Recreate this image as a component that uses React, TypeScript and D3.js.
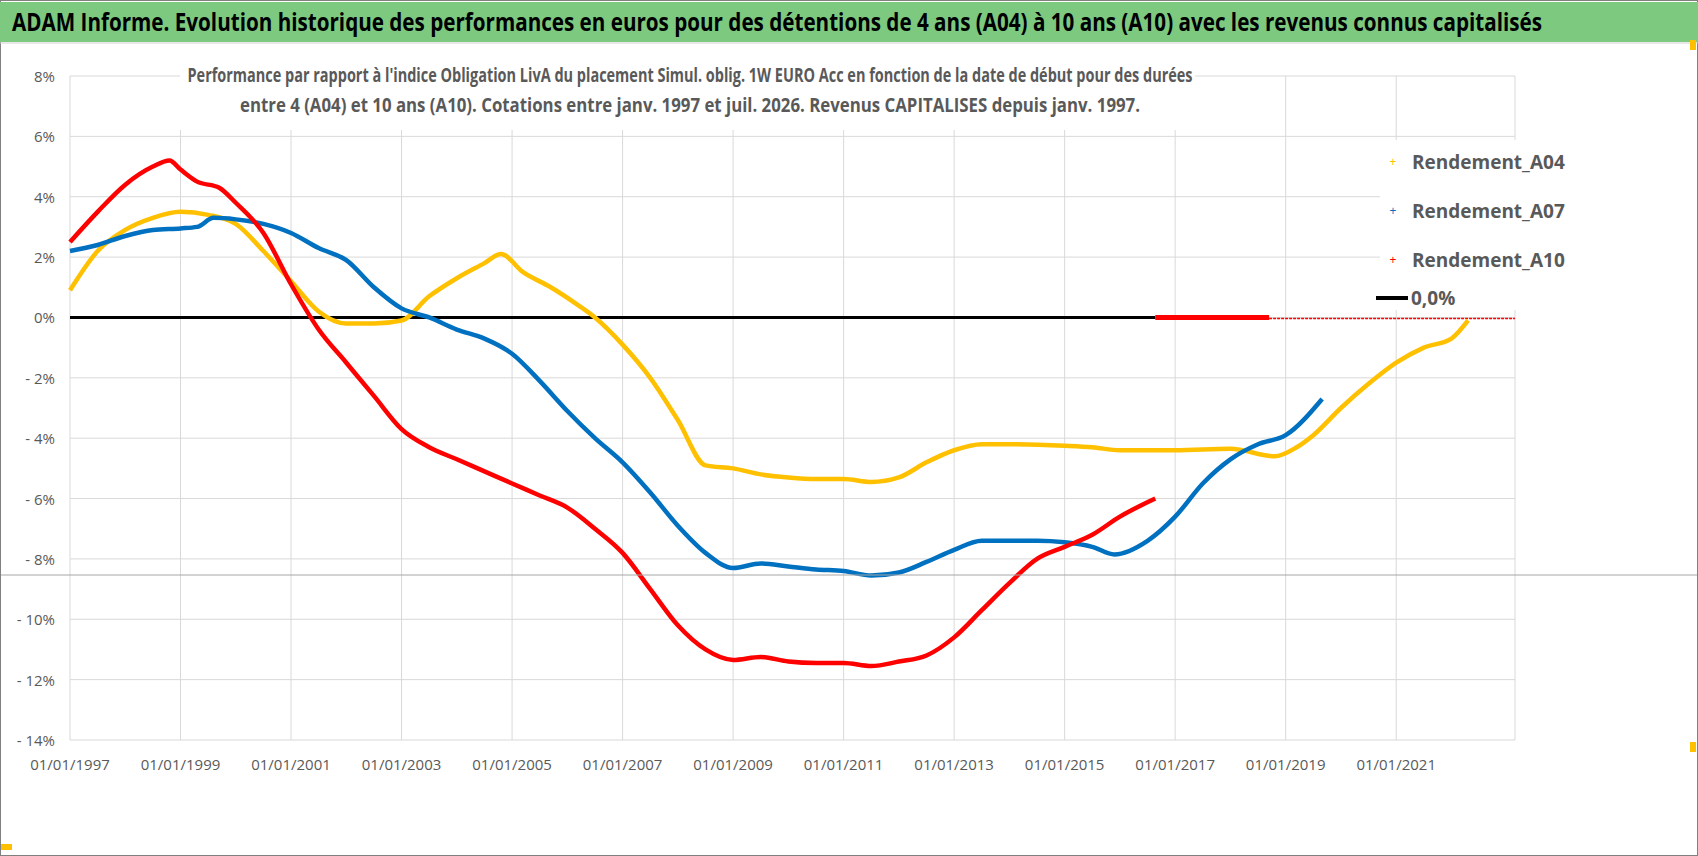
import { useEffect, useRef } from "react"
import * as d3 from "d3"

// year (decimal), value in %
const yearsA04 = [1997, 1997.5, 1998, 1998.5, 1999, 1999.5, 2000, 2000.5, 2001, 2001.5, 2002, 2002.5, 2003, 2003.5, 2004, 2004.5, 2004.8, 2005.2, 2005.7, 2006.2, 2006.5, 2007, 2007.5, 2008, 2008.5, 2009, 2009.5, 2010, 2010.5, 2011, 2011.5, 2012, 2012.5, 2013, 2013.5, 2014, 2015, 2015.5, 2016, 2017, 2018, 2018.8, 2019.2, 2019.5, 2020, 2020.5, 2021, 2021.5, 2022, 2022.3]
const valuesA04 = [0.9, 2.2, 2.9, 3.3, 3.5, 3.4, 3.1, 2.2, 1.2, 0.2, -0.2, -0.2, -0.1, 0.7, 1.3, 1.8, 2.1, 1.5, 1.0, 0.4, 0, -0.9, -2.0, -3.4, -4.9, -5.0, -5.2, -5.3, -5.35, -5.35, -5.45, -5.3, -4.8, -4.4, -4.2, -4.2, -4.25, -4.3, -4.4, -4.4, -4.35, -4.6, -4.3, -3.9, -3.0, -2.2, -1.5, -1.0, -0.7, -0.1]
const yearsA07 = [1997, 1997.5, 1998, 1998.5, 1999, 1999.3, 1999.6, 2000, 2000.5, 2001, 2001.5, 2002, 2002.5, 2003, 2003.5, 2004, 2004.5, 2005, 2005.5, 2006, 2006.5, 2007, 2007.5, 2008, 2008.5, 2009, 2009.5, 2010, 2010.5, 2011, 2011.5, 2012, 2012.5, 2013, 2013.5, 2014, 2014.5, 2015, 2015.5, 2015.9, 2016.5, 2017, 2017.5, 2018, 2018.5, 2019, 2019.66]
const valuesA07 = [2.2, 2.4, 2.7, 2.9, 2.95, 3.0, 3.3, 3.25, 3.1, 2.8, 2.3, 1.9, 1.0, 0.3, 0.0, -0.4, -0.7, -1.2, -2.1, -3.1, -4.0, -4.8, -5.8, -6.9, -7.8, -8.3, -8.15, -8.25, -8.35, -8.4, -8.55, -8.45, -8.1, -7.7, -7.4, -7.4, -7.4, -7.45, -7.6, -7.85, -7.4, -6.6, -5.5, -4.7, -4.2, -3.9, -2.7]
const yearsA10 = [1997, 1997.5, 1998, 1998.5, 1998.8, 1999, 1999.3, 1999.7, 2000, 2000.5, 2001, 2001.5, 2002, 2002.5, 2003, 2003.5, 2004, 2004.5, 2005, 2005.5, 2006, 2006.5, 2007, 2007.5, 2008, 2008.5, 2009, 2009.5, 2010, 2010.5, 2011, 2011.5, 2012, 2012.5, 2013, 2013.5, 2014, 2014.5, 2015, 2015.5, 2016, 2016.64]
const valuesA10 = [2.5, 3.5, 4.4, 5.0, 5.2, 4.9, 4.5, 4.3, 3.8, 2.8, 1.1, -0.4, -1.5, -2.6, -3.7, -4.3, -4.7, -5.1, -5.5, -5.9, -6.3, -7.0, -7.8, -9.0, -10.2, -11.0, -11.35, -11.25, -11.4, -11.45, -11.45, -11.55, -11.4, -11.2, -10.6, -9.7, -8.8, -8.0, -7.6, -7.2, -6.6, -6.0]
const tickYears = [1997, 1999, 2001, 2003, 2005, 2007, 2009, 2011, 2013, 2015, 2017, 2019, 2021]
const yTicks = [8, 6, 4, 2, 0, -2, -4, -6, -8, -10, -12, -14]
const legendNames = ["Rendement_A04", "Rendement_A07", "Rendement_A10"]
const colors = ["#ffc000", "#0070c0", "#ff0000"]

const FONT = "'Liberation Sans Narrow', 'Arial Narrow', 'Open Sans', sans-serif"

export default function App() {
  const ref = useRef<SVGSVGElement>(null)

  useEffect(() => {
    if (!ref.current) return
    const svg = d3.select(ref.current)
    svg.selectAll("*").remove()
    const W = 1698, H = 856

    svg.append("rect").attr("width", W).attr("height", H).attr("fill", "#fff")
    svg.append("rect").attr("x", 0.5).attr("y", 0.5).attr("width", W - 1).attr("height", H - 1)
      .attr("fill", "none").attr("stroke", "#808080")
    svg.append("rect").attr("x", 0).attr("y", 2).attr("width", W).attr("height", 40).attr("fill", "#7dc97f")
    svg.append("line").attr("x1", 0).attr("x2", W).attr("y1", 43).attr("y2", 43).attr("stroke", "#cfcfcf")
    svg.append("text").attr("x", 12).attr("y", 31).attr("font-family", FONT).attr("font-weight", "bold")
      .attr("font-size", 25).attr("textLength", 1530).attr("lengthAdjust", "spacingAndGlyphs")
      .text("ADAM Informe. Evolution historique des performances en euros pour des détentions de 4 ans (A04) à 10 ans (A10) avec les revenus connus capitalisés")

    const x = d3.scaleLinear().domain([1997, 2023.15]).range([70, 1515])
    const y = d3.scaleLinear().domain([-14, 8]).range([740, 76])

    const g = svg.append("g")
    g.selectAll(".vg").data(tickYears).enter().append("line")
      .attr("x1", d => x(d)).attr("x2", d => x(d)).attr("y1", 76).attr("y2", 740)
      .attr("stroke", "#d9d9d9")
    g.append("line").attr("x1", x(2023.15)).attr("x2", x(2023.15)).attr("y1", 76).attr("y2", 740).attr("stroke", "#d9d9d9")
    g.selectAll(".hg").data(yTicks).enter().append("line")
      .attr("x1", 70).attr("x2", 1515).attr("y1", d => y(d)).attr("y2", d => y(d))
      .attr("stroke", "#d9d9d9")

    g.selectAll(".yl").data(yTicks).enter().append("text")
      .attr("x", 55).attr("y", d => y(d) + 6).attr("text-anchor", "end")
      .attr("font-family", FONT).attr("font-size", 15).attr("fill", "#595959")
      .text(d => (d < 0 ? `- ${-d}%` : `${d}%`))
    g.selectAll(".xl").data(tickYears).enter().append("text")
      .attr("x", d => x(d)).attr("y", 770).attr("text-anchor", "middle")
      .attr("font-family", FONT).attr("font-size", 15).attr("fill", "#595959")
      .text(d => `01/01/${d}`)

    // subtitle with white background
    const sub = svg.append("g")
    sub.append("rect").attr("x", 180).attr("y", 60).attr("width", 1015).attr("height", 70).attr("fill", "#fff")
    ;[
      ["Performance par rapport à l'indice Obligation LivA  du placement Simul. oblig. 1W EURO Acc en fonction de la date de début pour des durées", 82, 1005],
      ["entre 4 (A04) et 10 ans (A10). Cotations entre janv. 1997 et juil. 2026. Revenus CAPITALISES depuis janv. 1997.", 112, 900],
    ].forEach(([t, yy, len]) => {
      sub.append("text").attr("x", 690).attr("y", yy as number).attr("text-anchor", "middle")
        .attr("font-family", FONT).attr("font-weight", "bold").attr("font-size", 19).attr("fill", "#595959")
        .attr("textLength", len as number).attr("lengthAdjust", "spacingAndGlyphs").text(t as string)
    })

    // zero line
    g.append("line").attr("x1", x(1997)).attr("x2", x(2016.64)).attr("y1", y(0)).attr("y2", y(0))
      .attr("stroke", "#000").attr("stroke-width", 3)
    g.append("line").attr("x1", x(2016.64)).attr("x2", x(2018.7)).attr("y1", y(0)).attr("y2", y(0))
      .attr("stroke", "#ff0000").attr("stroke-width", 5)
    g.append("line").attr("x1", x(2018.7)).attr("x2", x(2023.15)).attr("y1", y(0) + 1).attr("y2", y(0) + 1)
      .attr("stroke", "#ff0000").attr("stroke-width", 1.5).attr("stroke-dasharray", "3,1")

    const line = d3.line<[number, number]>().x(d => x(d[0])).y(d => y(d[1])).curve(d3.curveMonotoneX)
    const series: [number, number][][] = [
      d3.zip(yearsA04, valuesA04) as [number, number][],
      d3.zip(yearsA07, valuesA07) as [number, number][],
      d3.zip(yearsA10, valuesA10) as [number, number][],
    ]
    series.forEach((s, i) => {
      g.append("path").attr("d", line(s)).attr("fill", "none").attr("stroke", colors[i])
        .attr("stroke-width", 4.5).attr("stroke-linejoin", "round")
    })

    // light horizontal line across chart
    svg.append("line").attr("x1", 1).attr("x2", W - 1).attr("y1", 575).attr("y2", 575).attr("stroke", "#a6a6a6")

    // legend
    const lg = svg.append("g")
    lg.append("rect").attr("x", 1380).attr("y", 140).attr("width", 180).attr("height", 170).attr("fill", "#fff")
    legendNames.forEach((n, i) => {
      const yy = 160 + i * 49
      lg.append("text").attr("x", 1393).attr("y", yy + 6).attr("text-anchor", "middle").attr("font-size", 12)
        .attr("fill", colors[i]).attr("font-family", FONT).text("+")
      lg.append("text").attr("x", 1412).attr("y", yy + 9).attr("font-family", FONT).attr("font-weight", "bold")
        .attr("font-size", 19).attr("fill", "#595959").text(n)
    })
    lg.append("line").attr("x1", 1376).attr("x2", 1408).attr("y1", 298).attr("y2", 298).attr("stroke", "#000").attr("stroke-width", 4)
    lg.append("text").attr("x", 1411).attr("y", 305).attr("font-family", FONT).attr("font-weight", "bold")
      .attr("font-size", 19).attr("fill", "#595959").text("0,0%")

    svg.append("rect").attr("x", 1).attr("y", 844).attr("width", 11).attr("height", 6).attr("fill", "#ffc000")
    svg.append("rect").attr("x", 1690).attr("y", 40).attr("width", 6).attr("height", 10).attr("fill", "#ffc000")
    svg.append("rect").attr("x", 1690).attr("y", 742).attr("width", 6).attr("height", 10).attr("fill", "#ffc000")
  }, [])

  return <svg ref={ref} width={1698} height={856} style={{ display: "block", position: "absolute", left: 0, top: 0 }} />
}
